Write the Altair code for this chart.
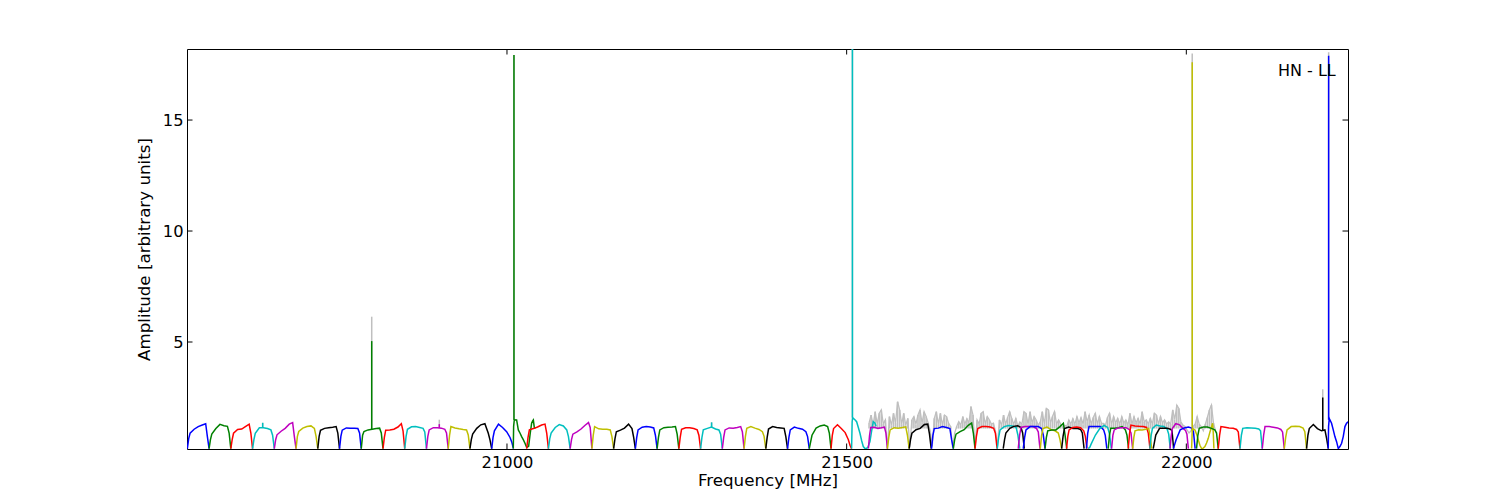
import altair as alt
import pandas as pd

# matplotlib classic colour codes
MPL = {"b": "#0000ff", "g": "#008000", "r": "#ff0000", "c": "#00bfbf",
       "m": "#bf00bf", "y": "#bfbf00", "k": "#000000"}
GRAY = "#bfbfbf"

x_ticks = [21000, 21500, 22000]
y_ticks = [5, 10, 15]
x_domain = [20529.0, 22238.0]
y_domain = [0.18, 18.2]

# sample positions (MHz) inside a 32 MHz sub-band
offsets = [0, 2, 4, 10, 16, 22, 27, 29.5, 32]

seg_color = ["b", "g", "r", "c", "m", "y", "k", "b", "g", "r", "c", "m", "y", "k", "b",
             "r", "c", "m", "y", "k", "b", "g", "r", "c", "m", "y", "k", "b", "g", "r",
             "m", "y", "k", "b", "g", "r", "c", "k", "m", "b", "y", "g", "k", "r", "b",
             "c", "g", "m", "r", "y", "c", "k", "m", "b",
             "g", "r", "c", "m", "y", "k"]
seg_start = [20529.5, 20561.5, 20593.5, 20625.5, 20657.5, 20689.5, 20721.5, 20753.5, 20785.5,
             20817.5, 20849.5, 20881.5, 20913.5, 20945.5, 20977.5,
             21029.0, 21061.0, 21093.0, 21125.0, 21157.0, 21189.0, 21221.0, 21253.0, 21285.0,
             21317.0, 21349.0, 21381.0, 21413.0, 21445.0, 21477.0,
             21532.0, 21560.0, 21592.0, 21625.0, 21657.0, 21689.0, 21721.7, 21730.5, 21752.6,
             21760.0, 21785.0, 21792.0, 21816.5, 21823.7, 21853.0, 21855.6, 21885.0, 21890.0,
             21914.5, 21921.0, 21946.4, 21951.3, 21976.0, 21981.0,
             22015.0, 22047.0, 22079.0, 22111.8, 22144.2, 22177.0]
seg_width = [32, 32, 32, 32, 32, 32, 32, 32, 32, 32, 32, 32, 32, 32, 32,
             32, 32, 32, 32, 32, 32, 32, 32, 32, 32, 32, 32, 32, 32, 30.3,
             28, 32, 32.5, 32, 32, 32.5, 33, 31, 32, 32, 31.5, 32, 33, 30, 30,
             34, 30, 31, 32, 28, 30, 30, 27, 32,
             32, 32, 32.8, 32.4, 32.8, 32]
seg_amp = [
    [0.2, 0.65, 0.89, 1.07, 1.19, 1.26, 1.32, 0.74, 0.2],
    [0.2, 0.6, 0.85, 1.1, 1.29, 1.23, 1.2, 0.9, 0.2],
    [0.2, 0.6, 0.89, 1.06, 1.08, 1.2, 1.3, 0.9, 0.2],
    [0.2, 0.6, 0.89, 1.14, 1.14, 1.1, 1.04, 0.8, 0.2],
    [0.2, 0.6, 0.82, 0.98, 1.11, 1.3, 1.37, 0.75, 0.2],
    [0.2, 0.75, 0.97, 1.12, 1.19, 1.22, 1.11, 0.75, 0.2],
    [0.2, 0.75, 1.02, 1.11, 1.14, 1.16, 1.19, 0.9, 0.2],
    [0.2, 0.75, 1.03, 1.13, 1.11, 1.11, 1.1, 0.9, 0.2],
    [0.2, 0.8, 0.97, 1.04, 1.07, 1.1, 1.12, 0.9, 0.2],
    [0.2, 0.7, 1.03, 1.04, 1.07, 1.17, 1.32, 1.0, 0.2],
    [0.2, 0.75, 1.07, 1.18, 1.19, 1.15, 1.11, 0.95, 0.2],
    [0.2, 0.75, 1.04, 1.14, 1.14, 1.12, 1.07, 0.9, 0.2],
    [0.2, 0.8, 1.19, 1.13, 1.09, 1.06, 1.04, 0.81, 0.2],
    [0.2, 0.6, 0.85, 1.11, 1.27, 1.32, 0.89, 0.59, 0.2],
    [0.2, 0.7, 1.0, 1.3, 1.15, 0.96, 0.7, 0.5, 0.2],
    [0.2, 0.7, 1.04, 1.1, 1.17, 1.26, 1.3, 0.9, 0.2],
    [0.2, 0.65, 0.9, 1.15, 1.28, 1.22, 1.04, 0.74, 0.2],
    [0.2, 0.6, 0.85, 0.95, 1.08, 1.25, 1.37, 1.15, 0.2],
    [0.2, 0.8, 1.19, 1.09, 1.07, 1.07, 1.04, 0.74, 0.2],
    [0.2, 0.65, 0.96, 1.03, 1.12, 1.3, 1.1, 0.7, 0.2],
    [0.2, 0.7, 1.04, 1.16, 1.19, 1.17, 1.13, 0.8, 0.2],
    [0.2, 0.7, 1.04, 1.14, 1.16, 1.17, 1.19, 0.85, 0.2],
    [0.2, 0.7, 1.07, 1.14, 1.14, 1.1, 1.04, 0.8, 0.2],
    [0.2, 0.7, 1.04, 1.11, 1.17, 1.08, 1.04, 0.85, 0.2],
    [0.2, 0.7, 1.04, 1.13, 1.11, 1.15, 1.19, 0.96, 0.2],
    [0.2, 0.75, 1.11, 1.19, 1.12, 1.06, 0.96, 0.75, 0.2],
    [0.2, 0.7, 1.08, 1.19, 1.15, 1.13, 1.11, 0.74, 0.2],
    [0.2, 0.7, 1.04, 1.17, 1.11, 1.07, 0.96, 0.74, 0.2],
    [0.2, 0.5, 0.8, 1.12, 1.22, 1.26, 1.19, 0.9, 0.2],
    [0.2, 0.8, 1.1, 1.27, 1.1, 0.92, 0.6, 0.35, 0.2],
    [0.2, 0.8, 1.15, 1.16, 1.11, 1.14, 1.17, 0.9, 0.2],
    [0.2, 0.7, 1.04, 1.14, 1.12, 1.15, 1.18, 0.8, 0.2],
    [0.2, 0.6, 0.89, 1.05, 1.11, 1.28, 1.3, 0.85, 0.2],
    [0.2, 0.8, 1.1, 1.12, 1.19, 1.15, 1.1, 0.6, 0.2],
    [0.2, 0.6, 0.85, 0.96, 1.05, 1.25, 1.35, 0.9, 0.2],
    [0.2, 0.75, 1.1, 1.19, 1.19, 1.17, 1.11, 0.89, 0.2],
    [0.2, 0.7, 1.04, 1.19, 1.24, 1.22, 1.15, 0.8, 0.2],
    [0.2, 0.6, 0.9, 1.11, 1.2, 1.23, 1.15, 0.9, 0.2],
    [0.2, 0.8, 1.15, 1.19, 1.19, 1.19, 1.1, 0.95, 0.2],
    [0.2, 0.7, 1.04, 1.19, 1.19, 1.19, 1.1, 0.8, 0.2],
    [0.2, 0.8, 1.1, 1.17, 1.06, 1.0, 0.9, 0.6, 0.2],
    [0.2, 0.7, 1.0, 1.04, 1.04, 1.19, 1.34, 0.81, 0.2],
    [0.2, 0.75, 1.1, 1.17, 1.1, 1.11, 1.06, 0.9, 0.2],
    [0.2, 0.75, 1.04, 1.15, 1.17, 1.14, 1.0, 0.75, 0.2],
    [0.2, 0.9, 1.19, 1.19, 1.19, 1.19, 1.04, 0.8, 0.2],
    [0.2, 0.25, 0.4, 0.81, 1.1, 1.24, 1.15, 0.85, 0.2],
    [0.2, 0.8, 1.11, 1.11, 1.14, 1.19, 1.04, 0.8, 0.2],
    [0.2, 0.8, 1.04, 1.13, 1.14, 1.14, 1.06, 0.9, 0.2],
    [0.2, 0.9, 1.26, 1.22, 1.2, 1.19, 1.15, 0.9, 0.2],
    [0.2, 0.7, 1.0, 1.05, 1.04, 1.07, 1.11, 0.74, 0.2],
    [0.2, 0.8, 1.11, 1.26, 1.22, 1.19, 1.08, 0.85, 0.2],
    [0.2, 0.5, 0.81, 1.11, 1.11, 1.11, 1.07, 1.0, 0.2],
    [0.2, 0.75, 1.1, 1.32, 1.28, 1.12, 1.02, 0.85, 0.2],
    [0.2, 0.4, 0.6, 1.04, 1.13, 1.17, 1.12, 0.96, 0.2],
    [0.2, 0.8, 1.11, 1.17, 1.17, 1.11, 1.04, 0.9, 0.2],
    [0.2, 0.8, 1.19, 1.16, 1.13, 1.11, 1.06, 0.95, 0.2],
    [0.2, 0.8, 1.11, 1.14, 1.13, 1.11, 1.08, 1.0, 0.2],
    [0.2, 0.8, 1.19, 1.19, 1.16, 1.13, 1.06, 0.95, 0.2],
    [0.2, 0.7, 1.04, 1.19, 1.21, 1.19, 1.12, 0.96, 0.2],
    [0.2, 0.8, 1.1, 1.28, 1.1, 1.0, 1.04, 0.66, 0.2],
]

# sub-bands with an irregular shape (inserted before the regular band of the given index)
irr_before = [15, 30, 54, 60]
irr_color = ["g", "c", "y", "b"]
irr_freq = [
    [21009.3, 21009.8, 21010.8, 21014.2, 21016.7, 21019.1, 21021.6, 21024.0, 21026.5,
     21029.0, 21031.9, 21034.3, 21036.3, 21037.8, 21038.8, 21040.2, 21041.7],
    [21507.3, 21508.1, 21508.8, 21509.8, 21512.2, 21514.7, 21517.2, 21519.6, 21522.1,
     21524.5, 21527.0, 21529.4, 21531.9, 21534.3, 21536.8, 21539.2, 21541.7, 21543.2],
    [22007.8, 22008.7, 22009.7, 22012.7, 22015.1, 22017.6, 22020.0, 22022.5, 22024.9,
     22027.4, 22029.8, 22032.3, 22034.8, 22037.2, 22038.7, 22039.7, 22040.6],
    [22208.9, 22209.4, 22210.4, 22211.4, 22213.8, 22216.3, 22218.7, 22221.2, 22223.7,
     22226.1, 22228.6, 22231.0, 22233.5, 22235.9, 22238.4, 22240.8],
]
irr_amp = [
    [0.2, 1.2, 1.5, 1.49, 1.04, 0.9, 0.74, 0.6, 0.44, 0.25, 0.3, 0.9, 1.34, 1.45, 1.49, 1.15, 1.1],
    [0.2, 1.4, 1.6, 1.56, 1.5, 1.41, 1.15, 0.89, 0.55, 0.29, 0.2, 0.2, 0.3, 0.51, 1.0, 1.41, 1.34, 1.2],
    [0.2, 1.0, 1.1, 1.04, 0.85, 0.59, 0.35, 0.2, 0.22, 0.29, 0.45, 0.66, 0.95, 1.19, 1.34, 0.9, 0.2],
    [0.2, 1.2, 1.55, 1.49, 1.34, 1.04, 0.74, 0.51, 0.2, 0.29, 0.44, 0.74, 1.19, 1.34, 1.41, 1.19],
]

# narrow spikes (RFI lines)
spike_f = [20640.4, 20800.9, 20900.4, 21010.3, 21301.2, 21508.5, 22008.7, 22200.8, 22209.5]
spike_col = ["c", "g", "m", "g", "c", "c", "y", "k", "b"]
spike_base = [1.13, 1.08, 1.13, 1.5, 1.15, 1.6, 1.0, 1.0, 1.5]
spike_top = [1.36, 5.04, 1.3, 17.93, 1.38, 18.2, 17.6, 2.5, 17.9]
spike_gray = [1.36, 6.14, 1.5, 17.93, 1.38, 18.2, 18.0, 2.87, 18.05]

# grey (unflagged) spectrum, sampled every 3 MHz from 21533 MHz
gray_start = 21533.0
gray_step = 3.0
gray_amp = [
    1.35, 1.71, 1.25, 1.86, 1.3, 1.79, 1.94, 1.3, 1.49, 0.2,
    1.64, 1.25, 1.79, 1.35, 2.31, 1.94, 1.3, 1.79, 1.25, 1.56,
    0.25, 1.49, 1.64, 1.3, 1.71, 1.94, 1.35, 1.86, 1.64, 1.35,
    1.0, 0.3, 1.56, 1.86, 1.3, 1.79, 1.25, 1.71, 1.64, 1.34,
    1.2, 0.25, 0.9, 1.2, 1.41, 1.25, 1.64, 1.3, 1.55, 1.35,
    2.09, 1.71, 0.25, 1.49, 1.3, 1.79, 1.86, 1.3, 1.64, 1.49,
    1.3, 1.34, 1.0, 0.3, 1.49, 1.25, 1.71, 1.3, 1.6, 1.86,
    1.56, 1.3, 1.56, 1.2, 1.4, 1.3, 1.86, 1.79, 1.3, 1.86,
    1.35, 1.64, 1.49, 1.25, 1.4, 1.86, 1.3, 2.01, 1.94, 1.35,
    1.64, 1.86, 1.3, 1.49, 1.3, 1.19, 1.25, 1.2, 1.49, 1.3,
    1.55, 1.3, 1.64, 1.35, 1.6, 1.3, 1.86, 1.4, 1.71, 1.3,
    1.6, 1.79, 1.3, 1.64, 1.35, 1.34, 1.25, 1.6, 1.79, 1.3,
    1.64, 1.35, 1.56, 1.3, 1.64, 1.35, 1.49, 1.25, 1.79, 1.3,
    1.64, 1.35, 1.56, 1.3, 1.86, 1.4, 1.49, 1.3, 1.56, 1.3,
    1.79, 1.71, 1.3, 1.64, 1.35, 1.49, 1.3, 1.4, 1.3, 1.94,
    1.5, 2.16, 2.01, 1.4, 1.26, 1.2, 1.04, 0.9, 1.0, 1.2,
    1.3, 1.64, 1.3, 1.19, 1.0, 1.3, 1.6, 1.94, 2.16, 1.34,
    1.0,
]
gray_floor = 1.1   # level of the underlying sub-band plateau

label_text = ["HN - LL"]
label_f = [22220.0]
label_amp = [17.0]

# ---------------------------------------------------------------- tables
rows = []
seg_id = 0
j = 0
for i in range(len(seg_color) + 1):
    while j < len(irr_before) and irr_before[j] == i:
        for f, a in zip(irr_freq[j], irr_amp[j]):
            rows.append({"seg": seg_id, "f": f, "amp": a, "col": MPL[irr_color[j]]})
        seg_id += 1
        j += 1
    if i < len(seg_color):
        k = seg_width[i] / 32.0
        for o, a in zip(offsets, seg_amp[i]):
            rows.append({"seg": seg_id, "f": seg_start[i] + o * k, "amp": a,
                         "col": MPL[seg_color[i]]})
        seg_id += 1
seg_df = pd.DataFrame(rows)

gray_df = pd.DataFrame({"f": [gray_start + gray_step * n for n in range(len(gray_amp))],
                        "amp": gray_amp})
gray_df["low"] = gray_df["amp"].clip(upper=gray_floor)
spike_df = pd.DataFrame({"f": spike_f, "amp": spike_base, "top": spike_top,
                         "gray": spike_gray, "col": [MPL[c] for c in spike_col]})
xt_df = pd.DataFrame({"f": x_ticks})
yt_df = pd.DataFrame({"amp": y_ticks})
lab_df = pd.DataFrame({"f": label_f, "amp": label_amp, "t": label_text})

FONT = "DejaVu Sans"
W, H = 1161, 400
TL = 5.5
xs = alt.Scale(domain=x_domain, nice=False, zero=False)
ys = alt.Scale(domain=y_domain, nice=False, zero=False)
x_axis = alt.Axis(values=x_ticks, format="d", tickSize=0, domain=False, grid=False,
                  labelFontSize=16.3, labelFont=FONT, labelColor="black", labelPadding=5,
                  title="Frequency [MHz]", titleFont=FONT, titleFontSize=16.7,
                  titleFontWeight="normal", titleColor="black", titleY=36,
                  titleBaseline="alphabetic")
y_axis = alt.Axis(values=y_ticks, tickSize=0, domain=False, grid=False,
                  labelFontSize=16.3, labelFont=FONT, labelColor="black", labelPadding=4,
                  title="Amplitude [arbitrary units]", titleFont=FONT, titleFontSize=16.7,
                  titleFontWeight="normal", titleColor="black", titleX=-38,
                  titleBaseline="alphabetic")
X = alt.X("f:Q", scale=xs, axis=x_axis)
Y = alt.Y("amp:Q", scale=ys, axis=y_axis)
LW = 1.5

# grey noise: vertical streaks from the plateau up to each sample, plus the sample trace
gray_fill = alt.Chart(gray_df).mark_rule(color=GRAY, strokeWidth=1.6, clip=True).encode(
    x=X, y=Y, y2=alt.Y2("low:Q"))
gray_line = alt.Chart(gray_df).mark_line(color=GRAY, strokeWidth=1.3, clip=True).encode(
    x=X, y=Y, order="f:Q")
gray_spk = alt.Chart(spike_df).mark_rule(color=GRAY, strokeWidth=LW, clip=True).encode(
    x=X, y=Y, y2=alt.Y2("gray:Q"))
seg_lines = alt.Chart(seg_df).mark_line(strokeWidth=LW, clip=True).encode(
    x=X, y=Y, detail="seg:N", color=alt.Color("col:N", scale=None), order="f:Q")
spk = alt.Chart(spike_df).mark_rule(strokeWidth=LW, clip=True).encode(
    x=X, y=Y, y2=alt.Y2("top:Q"), color=alt.Color("col:N", scale=None))

xt_bot = alt.Chart(xt_df).mark_rule(color="black", strokeWidth=1).encode(
    x=X, y=alt.value(H), y2=alt.value(H - TL))
xt_top = alt.Chart(xt_df).mark_rule(color="black", strokeWidth=1).encode(
    x=X, y=alt.value(0), y2=alt.value(TL))
yt_left = alt.Chart(yt_df).mark_rule(color="black", strokeWidth=1).encode(
    y=Y, x=alt.value(0), x2=alt.value(TL))
yt_right = alt.Chart(yt_df).mark_rule(color="black", strokeWidth=1).encode(
    y=Y, x=alt.value(W), x2=alt.value(W - TL))

label = alt.Chart(lab_df).mark_text(align="right", baseline="alphabetic", fontSize=16,
                                    font=FONT, color="black").encode(x=X, y=Y, text="t:N")

chart = alt.layer(gray_fill, gray_line, gray_spk, seg_lines, spk,
                  xt_bot, xt_top, yt_left, yt_right, label).properties(
    width=W, height=H,
    autosize=alt.AutoSizeParams(type="none"),
    padding={"left": 179, "top": 41, "right": 110, "bottom": 40},
    background="white",
).configure_view(stroke="black", strokeWidth=1)

chart.save("out.html", embed_options={"renderer": "svg", "actions": False})
